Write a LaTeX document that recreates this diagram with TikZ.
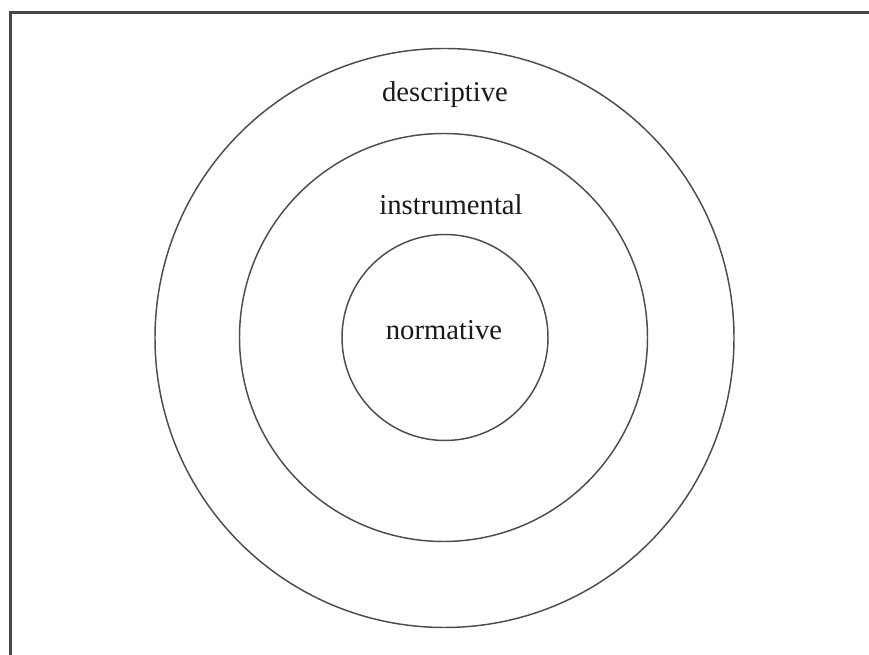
\documentclass[tikz,border=0pt]{standalone}
\usepackage{fontspec}
\setmainfont{Liberation Serif}
\begin{document}
\begin{tikzpicture}[x=0.75pt,y=-0.75pt,
  ring/.style={circle,draw=black!70,line width=1.1pt,inner sep=0pt},
  label/.style={font=\fontsize{21.5}{24}\selectfont,text=black!90,anchor=base,inner sep=0pt}]
  \useasboundingbox (0,0) rectangle (869,655);
  % open frame: only the left and top edges are visible
  \draw[black!72,line width=1.6pt] (10.5,655) -- (10.5,12.5) -- (869,12.5);
  % three concentric levels
  \node[ring,minimum size=579*0.75pt] (outer) at (444.5,338) {};
  \node[ring,minimum size=408*0.75pt] (middle) at (443.5,337.5) {};
  \node[ring,minimum size=206*0.75pt] (inner) at (445,337.5) {};
  % level names
  \node[label] (desc) at (445,102) {descriptive};
  \node[label] (instr) at (451,215) {instrumental};
  \node[label] (norm) at (444,340) {normative};
\end{tikzpicture}
\end{document}
